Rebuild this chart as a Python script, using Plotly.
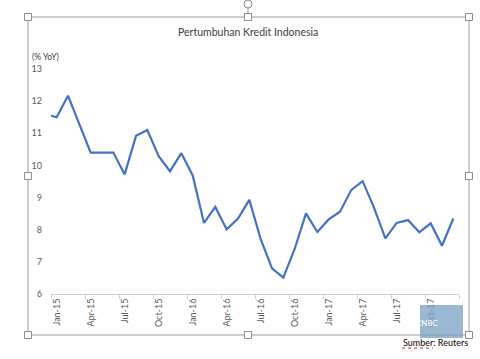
import plotly.graph_objects as go

months = ["Dec-14",
          "Jan-15", "Feb-15", "Mar-15", "Apr-15", "May-15", "Jun-15",
          "Jul-15", "Aug-15", "Sep-15", "Oct-15", "Nov-15", "Dec-15",
          "Jan-16", "Feb-16", "Mar-16", "Apr-16", "May-16", "Jun-16",
          "Jul-16", "Aug-16", "Sep-16", "Oct-16", "Nov-16", "Dec-16",
          "Jan-17", "Feb-17", "Mar-17", "Apr-17", "May-17", "Jun-17",
          "Jul-17", "Aug-17", "Sep-17", "Oct-17", "Nov-17", "Dec-17"]
credit_growth = [11.6,
                 11.5, 12.17, 11.3, 10.4, 10.4, 10.4,
                 9.72, 10.92, 11.1, 10.29, 9.82, 10.38,
                 9.69, 8.21, 8.71, 8.01, 8.35, 8.93,
                 7.71, 6.8, 6.51, 7.4, 8.51, 7.93,
                 8.32, 8.56, 9.24, 9.51, 8.69, 7.73,
                 8.21, 8.3, 7.92, 8.2, 7.5, 8.35]
tick_labels = ["Jan-15", "Apr-15", "Jul-15", "Oct-15", "Jan-16", "Apr-16",
               "Jul-16", "Oct-16", "Jan-17", "Apr-17", "Jul-17", "Oct-17"]
y_ticks = [6, 7, 8, 9, 10, 11, 12, 13]

idx = list(range(-1, len(months) - 1))
tick_pos = [months.index(m) - 1 for m in tick_labels]

FONT = "Lato, 'Open Sans', sans-serif"
GREY = "#595959"

fig = go.Figure()
fig.add_trace(go.Scatter(x=idx, y=credit_growth, mode="lines",
                         line=dict(color="#4472C4", width=2.2),
                         hovertext=months, showlegend=False))

fig.update_layout(
    width=480, height=359,
    margin=dict(l=51, r=21, t=69, b=65),
    paper_bgcolor="white", plot_bgcolor="white",
    font=dict(family=FONT, color=GREY, size=9),
    title=dict(text="Pertumbuhan Kredit Indonesia", x=0.517, xanchor="center",
               y=1 - 32 / 359, yanchor="middle",
               font=dict(size=10.5, color="#404040", family=FONT)),
)
fig.update_xaxes(range=[-0.5, 35.5], tickmode="array", tickvals=tick_pos,
                 ticktext=tick_labels, tickangle=-90, ticks="",
                 showgrid=False, zeroline=False, showline=True,
                 linecolor="#d0d0d0", linewidth=1,
                 tickfont=dict(size=9, color=GREY),
                 minor=dict(tickmode="linear", tick0=-0.5, dtick=3,
                            ticks="outside", ticklen=4, tickcolor="#d0d0d0",
                            showgrid=False))
fig.update_yaxes(range=[6, 13], tickmode="array", tickvals=y_ticks,
                 showgrid=False, zeroline=False, showline=False,
                 ticks="", ticklabelstandoff=8,
                 tickfont=dict(size=9, color=GREY))


def px(x):
    return (x - 51) / 408


def py(y):
    return (294 - y) / 225


# y axis unit label
fig.add_annotation(text="(% YoY)", xref="paper", yref="paper",
                   x=px(30), y=py(57), xanchor="left",
                   yanchor="middle", showarrow=False,
                   font=dict(size=8.5, color="#404040", family=FONT))

# Excel selection frame
frame_col = "#a39a93"
fig.add_shape(type="rect", xref="paper", yref="paper",
              x0=px(28), x1=px(469), y0=py(335), y1=py(17),
              line=dict(color=frame_col, width=1), fillcolor="rgba(0,0,0,0)")
fig.add_shape(type="line", xref="paper", yref="paper",
              x0=px(248), x1=px(248), y0=py(17), y1=py(8),
              line=dict(color=frame_col, width=1))
fig.add_shape(type="circle", xref="paper", yref="paper",
              x0=px(244), x1=px(252), y0=py(8), y1=py(0),
              line=dict(color="#8c8c8c", width=1), fillcolor="white")
for hx, hy in [(28, 17), (248, 17), (469, 17), (28, 176), (469, 176),
               (28, 335), (248, 335), (469, 335)]:
    fig.add_shape(type="rect", xref="paper", yref="paper",
                  x0=px(hx - 3.5), x1=px(hx + 3.5),
                  y0=py(hy + 3.5), y1=py(hy - 3.5),
                  line=dict(color="#8c8c8c", width=1), fillcolor="white")

# watermark block
fig.add_shape(type="rect", xref="paper", yref="paper",
              x0=px(420), x1=px(463), y0=py(338), y1=py(305),
              line=dict(width=0), fillcolor="rgba(120,160,195,0.75)")
fig.add_annotation(text="CNBC", xref="paper", yref="paper",
                   x=px(441), y=py(330), showarrow=False,
                   font=dict(size=8, color="white", family=FONT))

# source
fig.add_annotation(text="Sumber: Reuters", xref="paper", yref="paper",
                   x=px(470), y=py(342), xanchor="right", yanchor="middle",
                   showarrow=False,
                   font=dict(size=9, color="black", family=FONT))
fig.add_shape(type="line", xref="paper", yref="paper",
              x0=px(402), x1=px(433), y0=py(348), y1=py(348),
              line=dict(color="#e02020", width=1, dash="dot"))

fig.write_html("out.html",
               config={"displayModeBar": False},
               post_script="document.body.style.margin='0';"
                           "document.body.style.overflow='hidden';")
